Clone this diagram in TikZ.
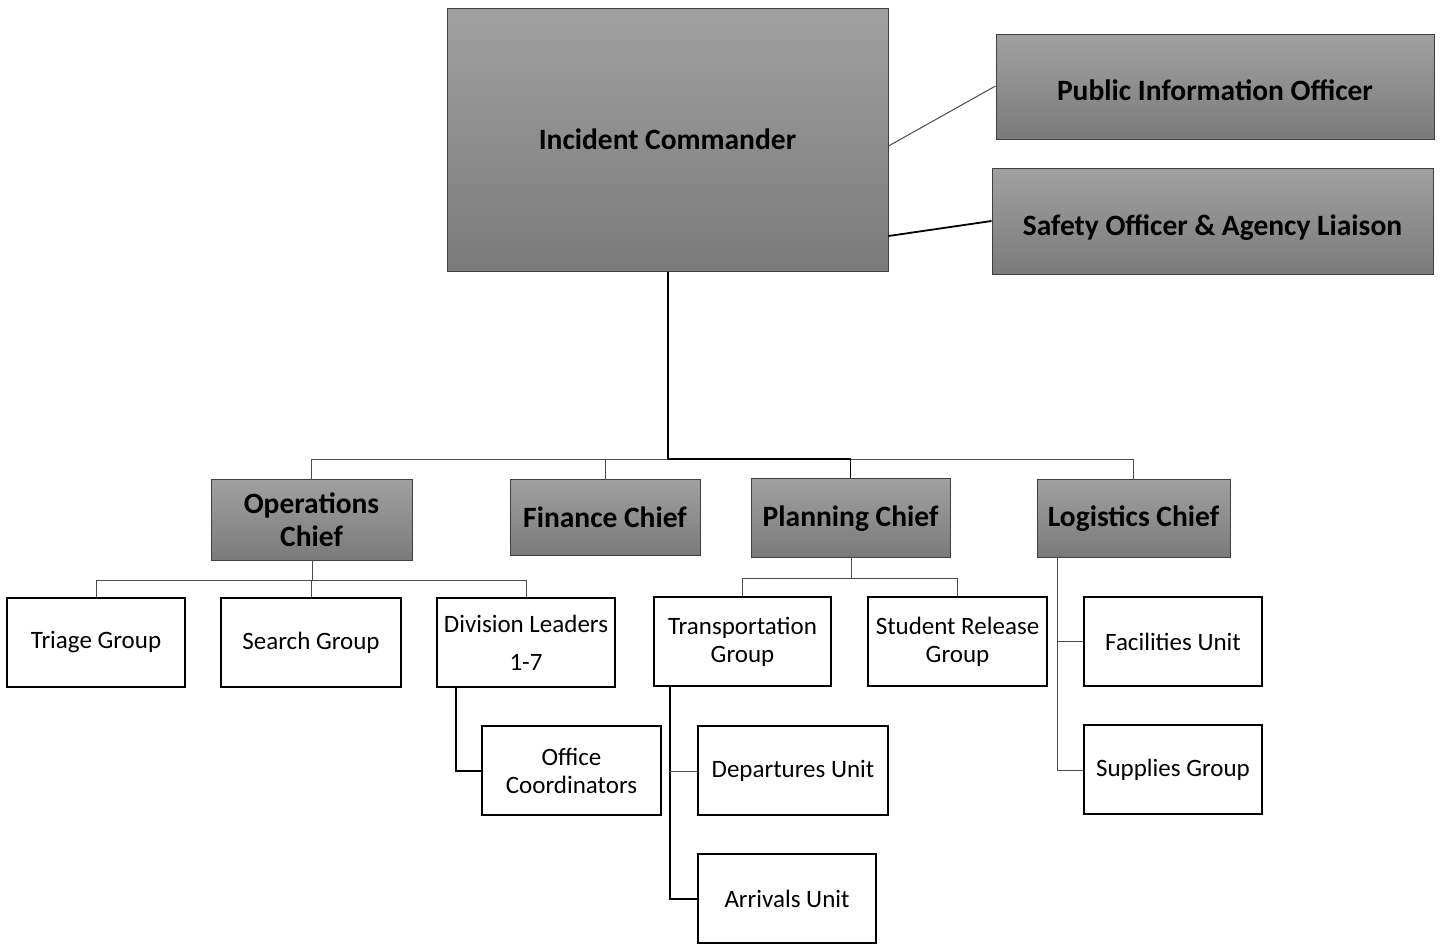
\documentclass[tikz,border=0pt]{standalone}
\usepackage{fontspec}
\setmainfont{Carlito}
\begin{document}
\begin{tikzpicture}[x=1pt,y=-1pt,
  gbox/.style={draw=black!75, line width=1pt, top color=black!37, bottom color=black!52, shade, font=\bfseries\fontsize{29.5}{33}\selectfont, align=center, inner sep=0pt},
  wbox/.style={draw=black, line width=1.8pt, fill=white, font=\fontsize{25}{28}\selectfont, align=center, inner sep=0pt},
  lower/.style={text height=34pt, text depth=6pt},
  thin/.style={draw=black!70, line width=1pt},
  thick/.style={draw=black, line width=1.8pt}]
\useasboundingbox (0,0) rectangle (1440,946);
\fill[white] (0,0) rectangle (1440,946);
% gray boxes
\node[gbox, minimum width=441pt, minimum height=263pt] (ic) at (667.5,139.5) {Incident Commander};
\node[gbox, lower, minimum width=438pt, minimum height=105pt] (pio) at (1215,86.5) {Public Information Officer};
\node[gbox, lower, minimum width=441pt, minimum height=106pt] (saf) at (1212.5,221) {Safety Officer \& Agency Liaison};
\node[gbox, minimum width=201pt, minimum height=81pt] (ops) at (311.5,519.5) {Operations\\Chief};
\node[gbox, minimum width=190pt, minimum height=76pt] (fin) at (605,517) {Finance Chief};
\node[gbox, text height=23pt, text depth=6pt, minimum width=199pt, minimum height=79pt] (pla) at (850.5,517.5) {Planning Chief};
\node[gbox, text height=23pt, text depth=6pt, minimum width=193pt, minimum height=78pt] (log) at (1133.5,518) {Logistics Chief};
% white boxes
\node[wbox, minimum width=178pt, minimum height=89pt] (tri) at (96,642.5) {Triage Group};
\node[wbox, minimum width=180pt, minimum height=89pt] (sea) at (311,642.5) {Search Group};
\node[wbox, minimum width=178pt, minimum height=89pt] (div) at (526,642.5) {Division Leaders\\[10pt]1-7};
\node[wbox, minimum width=179pt, minimum height=89pt] (off) at (571.5,770.5) {Office\\Coordinators};
\node[wbox, minimum width=177pt, minimum height=89pt] (tra) at (742.5,641.5) {Transportation\\Group};
\node[wbox, minimum width=179pt, minimum height=89pt] (stu) at (957.5,641.5) {Student Release\\Group};
\node[wbox, minimum width=190pt, minimum height=89pt] (dep) at (793,770.5) {Departures Unit};
\node[wbox, minimum width=178pt, minimum height=89pt] (arr) at (787,898.5) {Arrivals Unit};
\node[wbox, minimum width=178pt, minimum height=89pt] (fac) at (1173,641.5) {Facilities Unit};
\node[wbox, minimum width=178pt, minimum height=89pt] (sup) at (1173,769.5) {Supplies Group};
% coordinates
\coordinate (bus) at (668,459);
\coordinate (opsbus) at (312,580);
\coordinate (plabus) at (851,578);
% connectors top
\draw[thin] (ic.east |- 0,146) -- (pio.west |- 0,86);
\draw[thick] (ic.east |- 0,236) -- (saf.west |- 0,221);
\draw[thick] (ic.south -| bus) -- (bus);
\draw[thick] (bus) -- (pla.north |- bus) -- (pla.north);
\draw[thin] (bus) -- (ops.north |- bus) -- (ops.north);
\draw[thin] (fin.north |- bus) -- (fin.north);
\draw[thin] (pla.north |- bus) -- (log.north |- bus) -- (log.north);
% operations
\draw[thin] (ops.south -| opsbus) -- (opsbus);
\draw[thin] (tri.north) -- (tri.north |- opsbus) -- (div.north |- opsbus) -- (div.north);
\draw[thin] (sea.north) -- (sea.north |- opsbus);
\draw[thick] (div.south -| 456,0) -- (456,771) -- (off.west |- 0,771);
% planning
\draw[thin] (pla.south -| plabus) -- (plabus);
\draw[thin] (tra.north) -- (tra.north |- plabus) -- (stu.north |- plabus) -- (stu.north);
\draw[thick] (tra.south -| 670,0) -- (670,899) -- (arr.west |- 0,899);
\draw[thin] (670,771) -- (dep.west |- 0,771);
% logistics
\draw[thin] (log.south -| 1057,0) -- (1057,770) -- (sup.west |- 0,770);
\draw[thin] (1057,641) -- (fac.west |- 0,641);
\end{tikzpicture}
\end{document}
